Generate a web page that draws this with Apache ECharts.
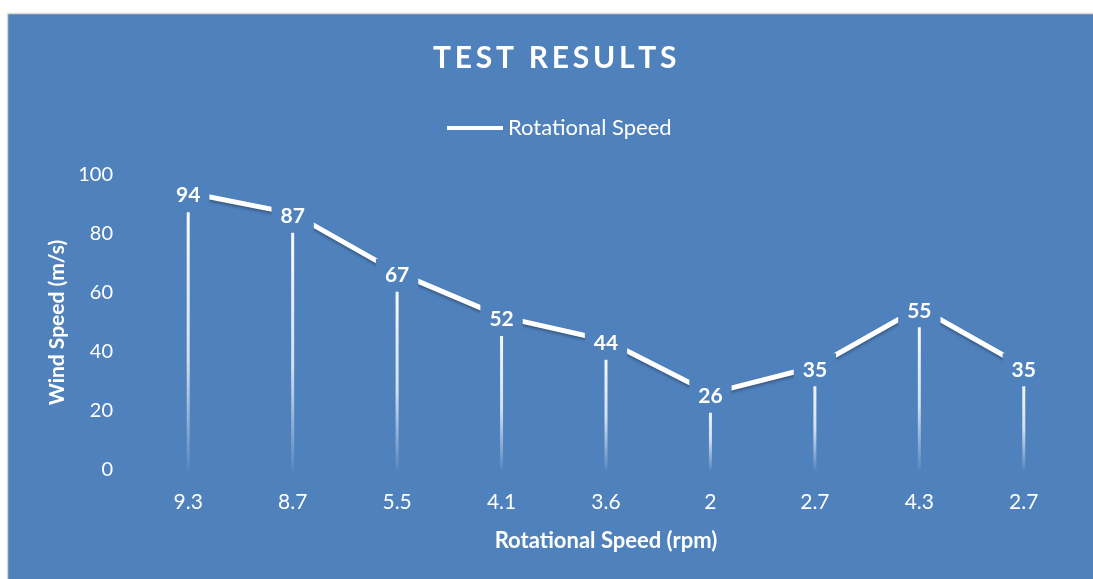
<!DOCTYPE html>
<html><head><meta charset="utf-8">
<script src="https://cdn.jsdelivr.net/npm/echarts@6/dist/echarts.min.js"></script>
<style>html,body{margin:0;padding:0;background:#fff}#c{width:1093px;height:579px}</style>
</head><body><div id="c"></div>
<script>
const categories = ['9.3','8.7','5.5','4.1','3.6','2','2.7','4.3','2.7'];
const windSpeed = [94,87,67,52,44,26,35,55,35];
const yTicks = [0,20,40,60,80,100];
const titleText = 'TEST RESULTS';
const BLUE = '#4F81BD';
const FONT = 'Lato';
const spaced = titleText.split('').join('\u2009');
const chart = echarts.init(document.getElementById('c'));
chart.setOption({
  backgroundColor: '#ffffff',
  animation: false,
  graphic: [{
    type: 'rect', z: -10, silent: true,
    shape: {x: 7.5, y: 13.5, width: 1100, height: 600},
    style: {fill: BLUE, stroke: '#D9D9D9', lineWidth: 1.5}
  }],
  title: {
    text: spaced, left: 428, top: 38,
    textStyle: {color: '#fff', fontFamily: FONT, fontWeight: 'bold', fontSize: 30}
  },
  legend: {
    top: 112, left: 442,
    itemWidth: 56, itemHeight: 14, itemGap: 4,
    data: [{name: 'Rotational Speed', icon: 'path://M0,5 L56,5 L56,9 L0,9 Z'}],
    textStyle: {color: '#fff', fontFamily: FONT, fontSize: 22}
  },
  grid: {left: 136, right: 17, top: 175, bottom: 109, containLabel: false},
  xAxis: {
    type: 'category', data: categories,
    name: 'Rotational Speed (rpm)', nameLocation: 'middle', nameGap: 60,
    nameTextStyle: {color: '#fff', fontFamily: FONT, fontWeight: 'bold', fontSize: 22},
    axisLine: {show: false}, axisTick: {show: false},
    axisLabel: {color: '#fff', fontFamily: FONT, fontSize: 21, margin: 22}
  },
  yAxis: {
    type: 'value', min: 0, max: 100, interval: 20,
    name: 'Wind Speed (m/s)', nameLocation: 'middle', nameGap: 66,
    nameTextStyle: {color: '#fff', fontFamily: FONT, fontWeight: 'bold', fontSize: 21},
    splitLine: {show: false}, axisLine: {show: false}, axisTick: {show: false},
    axisLabel: {color: '#fff', fontFamily: FONT, fontSize: 20, margin: 23,
      formatter: v => yTicks.includes(v) ? String(v) : ''}
  },
  series: [
    {
      type: 'bar', data: windSpeed, barWidth: 3, z: 1, silent: true,
      itemStyle: {color: new echarts.graphic.LinearGradient(0,0,0,1,[
        {offset: 0, color: 'rgba(255,255,255,1)'},
        {offset: 0.6, color: 'rgba(255,255,255,0.75)'},
        {offset: 1, color: 'rgba(255,255,255,0.05)'}
      ])}
    },
    {
      name: 'Rotational Speed', type: 'line', data: windSpeed, z: 3,
      symbol: 'circle', symbolSize: 1,
      lineStyle: {color: '#fff', width: 5, shadowColor: 'rgba(0,0,0,0.3)', shadowBlur: 3, shadowOffsetY: 2},
      itemStyle: {color: '#fff'},
      label: {
        show: true, position: 'inside', offset: [0, 3], color: '#fff', fontFamily: FONT,
        fontWeight: 'bold', fontSize: 21, backgroundColor: BLUE, padding: [5, 9, 7, 9]
      }
    }
  ]
});
</script></body></html>
